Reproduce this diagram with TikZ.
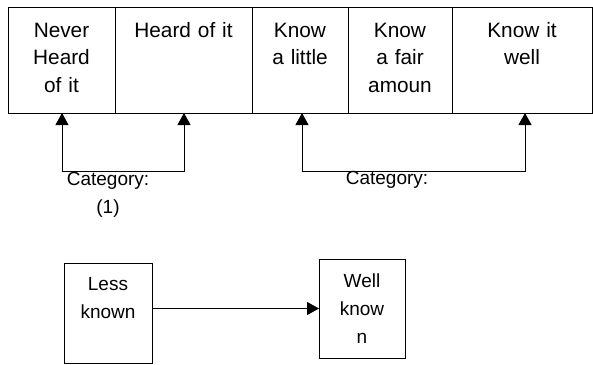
\documentclass[tikz,border=0pt]{standalone}
\usepackage{fontspec}
\setmainfont{Liberation Sans}
\usetikzlibrary{positioning,arrows.meta}

\begin{document}
\begin{tikzpicture}[x=1pt,y=-1pt,>={Triangle[width=13pt,length=12pt]},line width=1pt,
  font=\fontsize{19}{28}\selectfont,
  cell/.style={draw,inner sep=0pt,outer sep=0pt,align=center,text width=#1,text height=30pt,text depth=76pt,
    font=\fontsize{20.8}{27.5}\selectfont},
  box/.style={draw,inner sep=0pt,outer sep=0pt,align=center,text width=#1}]
  \useasboundingbox (0,0) rectangle (593,364);
  % scale of knowledge
  \node[cell=107pt,anchor=north west] (never) at (8,7) {Never\\Heard\\of it};
  \node[cell=137pt,right=0pt of never] (heard) {Heard of it};
  \node[cell=96pt,right=0pt of heard] (little) {Know\\a little};
  \node[cell=104pt,right=0pt of little] (fair) {Know\\a fair\\amoun};
  \node[cell=140pt,right=0pt of fair] (well) {Know it\\well};
  % brackets
  \coordinate (a1) at (62,171);
  \coordinate (a2) at (184,171);
  \coordinate (b1) at (302,171);
  \coordinate (b2) at (525,171);
  \draw[<->] (a1 |- never.south) -- (a1) -- (a2) -- (a2 |- heard.south);
  \draw[<->] (b1 |- little.south) -- (b1) -- (b2) -- (b2 |- well.south);
  \node[align=center] (cat1) at (108,194.5) {Category:\\(1)};
  \node (cat2) at (387,180) {Category:};
  % categories
  \node[box=88pt,text height=27pt,text depth=73pt,anchor=north west] (less) at (64,263) {Less\\known};
  \node[box=86pt,text height=28pt,text depth=71pt,anchor=north west] (wellknown) at (319,259) {Well\\know\\n};
  \draw[->] (less.east |- wellknown.west) -- (wellknown.west);
\end{tikzpicture}
\end{document}
